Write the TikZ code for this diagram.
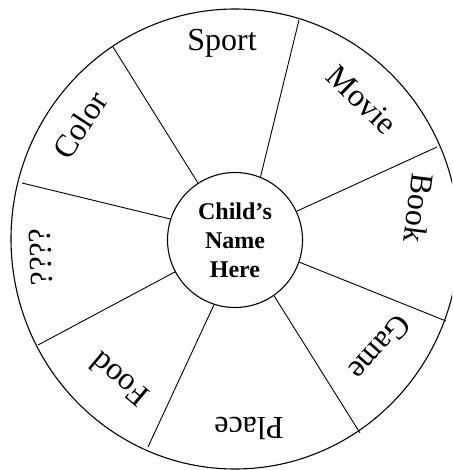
\documentclass[tikz,border=0pt]{standalone}
\usepackage{fontspec}
\setmainfont{Liberation Serif}
\begin{document}
\begin{tikzpicture}[x=1pt,y=-1pt,
  spoke/.style={line width=0.9pt},
  rim/.style={line width=1.1pt},
  lab/.style={font=\fontsize{32}{36}\selectfont, inner sep=0pt}]
\useasboundingbox (0,0) rectangle (452,470);
\clip (0,0) rectangle (452,470);
\draw[rim] (235,239) ellipse [x radius=224, y radius=230];
\node[draw, rim, circle, minimum size=135pt, inner sep=0pt,
      font=\bfseries\fontsize{24}{29}\selectfont, align=center] (hub) at (235,240) {Child’s\\Name\\Here};
\coordinate (o1) at (113,47);
\coordinate (o2) at (299,20);
\coordinate (o3) at (437,147);
\coordinate (o4) at (446,321);
\coordinate (o5) at (360,433);
\coordinate (o6) at (148,447);
\coordinate (o7) at (38,345);
\coordinate (o8) at (22,183);
\draw[spoke] (hub.123) -- (o1);
\draw[spoke] (hub.68) -- (o2);
\draw[spoke] (hub.25) -- (o3);
\draw[spoke] (hub.-19) -- (o4);
\draw[spoke] (hub.-55) -- (o5);
\draw[spoke] (hub.-108) -- (o6);
\draw[spoke] (hub.-152) -- (o7);
\draw[spoke] (hub.162) -- (o8);
\node[lab, anchor=base] (sport) at (222,51) {Sport};
\node[lab, rotate=-44] (movie) at (362,100) {Movie};
\node[lab, rotate=-97] (book) at (419,208) {Book};
\node[lab, rotate=-132] (game) at (380,348) {Game};
\node[lab, rotate=180] (place) at (249,428) {Place};
\node[lab, rotate=140] (food) at (119,380) {Food};
\node[lab, rotate=92] (qq) at (41,257) {????};
\node[lab, rotate=57] (color) at (80,125) {Color};
\end{tikzpicture}
\end{document}
